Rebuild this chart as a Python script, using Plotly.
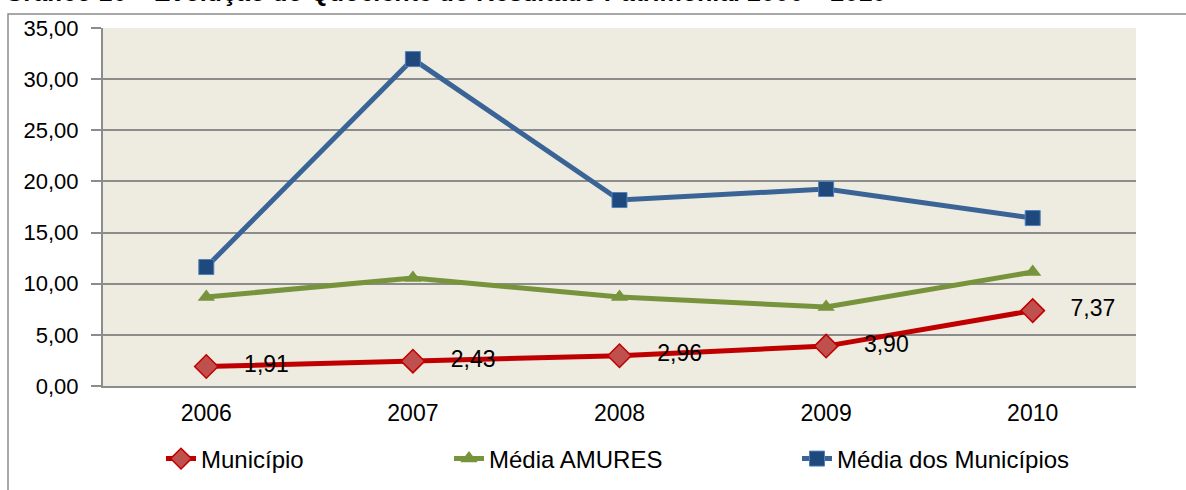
import plotly.graph_objects as go

years = ["2006", "2007", "2008", "2009", "2010"]
municipio = [1.91, 2.43, 2.96, 3.90, 7.37]
media_amures = [8.70, 10.56, 8.70, 7.72, 11.14]
media_municipios = [11.63, 31.96, 18.18, 19.26, 16.42]
y_ticks = [0, 5, 10, 15, 20, 25, 30, 35]
title_text = "Gráfico 16 – Evolução do Quociente do Resultado Patrimonial 2006 – 2010"

FONT = "Liberation Sans"
GRID = "#8c8c8c"
PH = 358.0
PW = 1033.0
PX0 = 103  # page x of plot left
PY1 = 386  # page y of plot bottom

fig = go.Figure()

fig.add_trace(go.Scatter(
    x=years, y=media_municipios, name="Média dos Municípios", mode="lines+markers",
    line=dict(color="#3A6496", width=5),
    marker=dict(symbol="square", size=15, color="#1F497D", line=dict(color="#4F81BD", width=1)),
    legend="legend3",
))
fig.add_trace(go.Scatter(
    x=years, y=media_amures, name="Média AMURES", mode="lines+markers",
    line=dict(color="#77933C", width=5),
    marker=dict(symbol="triangle-up", size=15, color="#77933C"),
    legend="legend2",
))
labels = ["    " + f"{v:.2f}".replace(".", ",") for v in municipio]
fig.add_trace(go.Scatter(
    x=years, y=municipio, name="Município", mode="lines+markers+text",
    line=dict(color="#C00000", width=5),
    marker=dict(symbol="diamond", size=18, color="#C0504D", line=dict(color="#C00000", width=1.5)),
    text=labels, textposition="middle right",
    textfont=dict(family=FONT, size=23, color="#000000"),
    legend="legend",
))

leg_common = dict(orientation="h", xanchor="left", y=-(459 - PY1) / PH, yanchor="middle",
                  font=dict(size=24), bgcolor="rgba(0,0,0,0)")

fig.update_layout(
    width=1186, height=490,
    margin=dict(l=103, r=50, t=28, b=104, autoexpand=False),
    paper_bgcolor="white",
    plot_bgcolor="#EEEBE0",
    separators=",.",
    font=dict(family=FONT, size=22, color="#000000"),
    showlegend=True,
    legend=dict(x=(161 - PX0) / PW, **leg_common),
    legend2=dict(x=(449 - PX0) / PW, **leg_common),
    legend3=dict(x=(797 - PX0) / PW, **leg_common),
    xaxis=dict(
        type="category", range=[-0.5, 4.5], showgrid=False, zeroline=False,
        showline=True, linecolor=GRID, linewidth=2, ticks="", automargin=False,
        tickfont=dict(size=23), ticklabelstandoff=5,
    ),
    yaxis=dict(
        range=[0, 35], tickvals=y_ticks, tickformat=".2f", automargin=False,
        showgrid=True, gridcolor=GRID, gridwidth=2, zeroline=False,
        showline=True, linecolor=GRID, linewidth=2,
        ticks="outside", ticklen=10, tickcolor=GRID, tickwidth=2,
        tickfont=dict(size=22), ticklabelstandoff=8,
    ),
    shapes=[dict(
        type="rect", xref="paper", yref="paper",
        x0=(8 - PX0) / PW, x1=1.2, y0=-0.6, y1=(PY1 - 14) / PH,
        line=dict(color="#8c8c8c", width=1.5), fillcolor="rgba(0,0,0,0)", layer="below",
    )],
    annotations=[dict(
        text="<b><i>" + title_text + "</i></b>", xref="paper", yref="paper",
        x=(3 - PX0) / PW, xanchor="left", y=(PY1 - 8) / PH, yanchor="bottom",
        showarrow=False, font=dict(family=FONT, size=25, color="#000000"),
    )],
)

fig.write_html("out.html", post_script="document.body.style.margin='0';",
               config={"displayModeBar": False})
